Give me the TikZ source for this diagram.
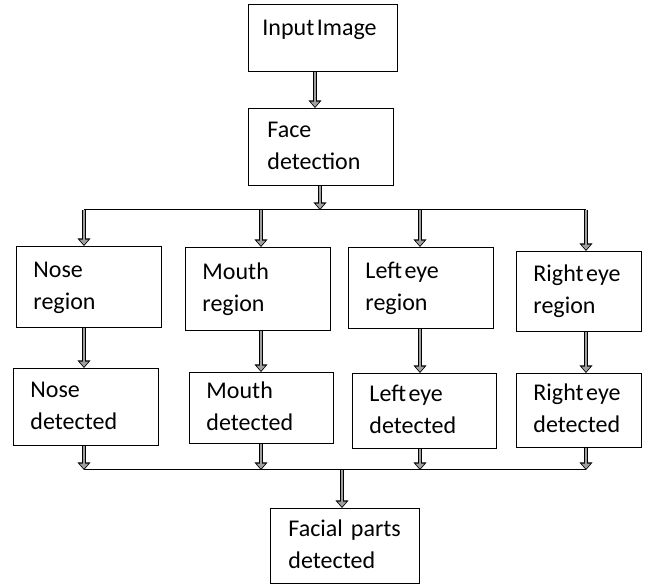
\documentclass[tikz,border=0pt]{standalone}
\usepackage{fontspec}
\setmainfont{Carlito}
\usetikzlibrary{arrows.meta}
\newcommand\myboxfont{\fontsize{24}{32}\selectfont}
\newcommand\tsp{\hspace{2.5pt}}
\begin{document}
\begin{tikzpicture}[x=1pt,y=-1pt,
  box/.style={draw=black, line width=0.9pt, anchor=north west, align=left,
    inner xsep=17pt, inner ysep=0pt, font=\myboxfont},
  hol/.style={draw=gray!75, line width=2.4pt, shorten >=1.3pt,
    -{Triangle[length=5pt,width=8.5pt]},
    preaction={draw=black, line width=4.6pt, shorten >=0pt, -{Triangle[length=7.5pt,width=12.5pt]}}},
  bus/.style={draw=black, line width=1pt}]
\useasboundingbox (0,0) rectangle (649,588);

\node[box, inner xsep=14pt, text width=121pt, minimum width=149pt, text height=31pt, text depth=36pt] (in) at (248,4) {Input\tsp Image};
\node[box, inner xsep=19pt, text width=107pt, minimum width=145pt, minimum height=77pt] (fd) at (248,108) {\strut Face\\detection\strut};

\node[box, text width=111pt, minimum width=145pt, minimum height=81pt] (nr) at (16,246) {\strut Nose\\region\strut};
\node[box, text width=111pt, minimum width=145pt, minimum height=83pt] (mr) at (185,247) {\strut Mouth\\region\strut};
\node[box, text width=111pt, minimum width=145pt, minimum height=81pt] (lr) at (348,247) {\strut Left\tsp eye\\region\strut};
\node[box, text width=91pt, minimum width=125pt, minimum height=80pt] (rr) at (516,251) {\strut\mbox{Right\tsp eye}\\region\strut};

\node[box, text width=111pt, minimum width=145pt, minimum height=77pt] (nd) at (13,368) {\strut Nose\\detected\strut};
\node[box, text width=110pt, minimum width=144pt, minimum height=71pt] (md) at (189,372) {\strut Mouth\\detected\strut};
\node[box, text width=110pt, minimum width=144pt, minimum height=75pt] (ld) at (352,373) {\strut Left\tsp eye\\detected\strut};
\node[box, text width=91pt, minimum width=125pt, minimum height=74pt] (rd) at (516,373) {\strut\mbox{Right\tsp eye}\\detected\strut};

\node[box, inner xsep=18pt, text width=113pt, minimum width=149pt, minimum height=75pt] (fp) at (270,508) {\strut Facial parts\\detected\strut};

\coordinate (xin) at (315,0);
\coordinate (xf) at (320,0);
\coordinate (xn) at (84,0);
\coordinate (xm) at (261,0);
\coordinate (xl) at (420,0);
\coordinate (xr) at (586,0);
\coordinate (xp) at (342,0);
\coordinate (bt) at (0,210);
\coordinate (bb) at (0,470);

\draw[hol] (in.south -| xin) -- (fd.north -| xin);
\draw[bus] (xn |- bt) -- (xr |- bt);
\draw[hol] (fd.south -| xf) -- (xf |- bt);

\draw[hol] (xn |- bt) -- (nr.north -| xn);
\draw[hol] (xm |- bt) -- (mr.north -| xm);
\draw[hol] (xl |- bt) -- (lr.north -| xl);
\draw[hol] (xr |- bt) -- (rr.north -| xr);

\draw[hol] (nr.south -| xn) -- (nd.north -| xn);
\draw[hol] (mr.south -| xm) -- (md.north -| xm);
\draw[hol] (lr.south -| xl) -- (ld.north -| xl);
\draw[hol] (rr.south -| xr) -- (rd.north -| xr);

\draw[bus] (xn |- bb) -- (xr |- bb);
\draw[hol] (nd.south -| xn) -- (xn |- bb);
\draw[hol] (md.south -| xm) -- (xm |- bb);
\draw[hol] (ld.south -| xl) -- (xl |- bb);
\draw[hol] (rd.south -| xr) -- (xr |- bb);

\draw[hol] (xp |- bb) -- (fp.north -| xp);
\end{tikzpicture}
\end{document}
